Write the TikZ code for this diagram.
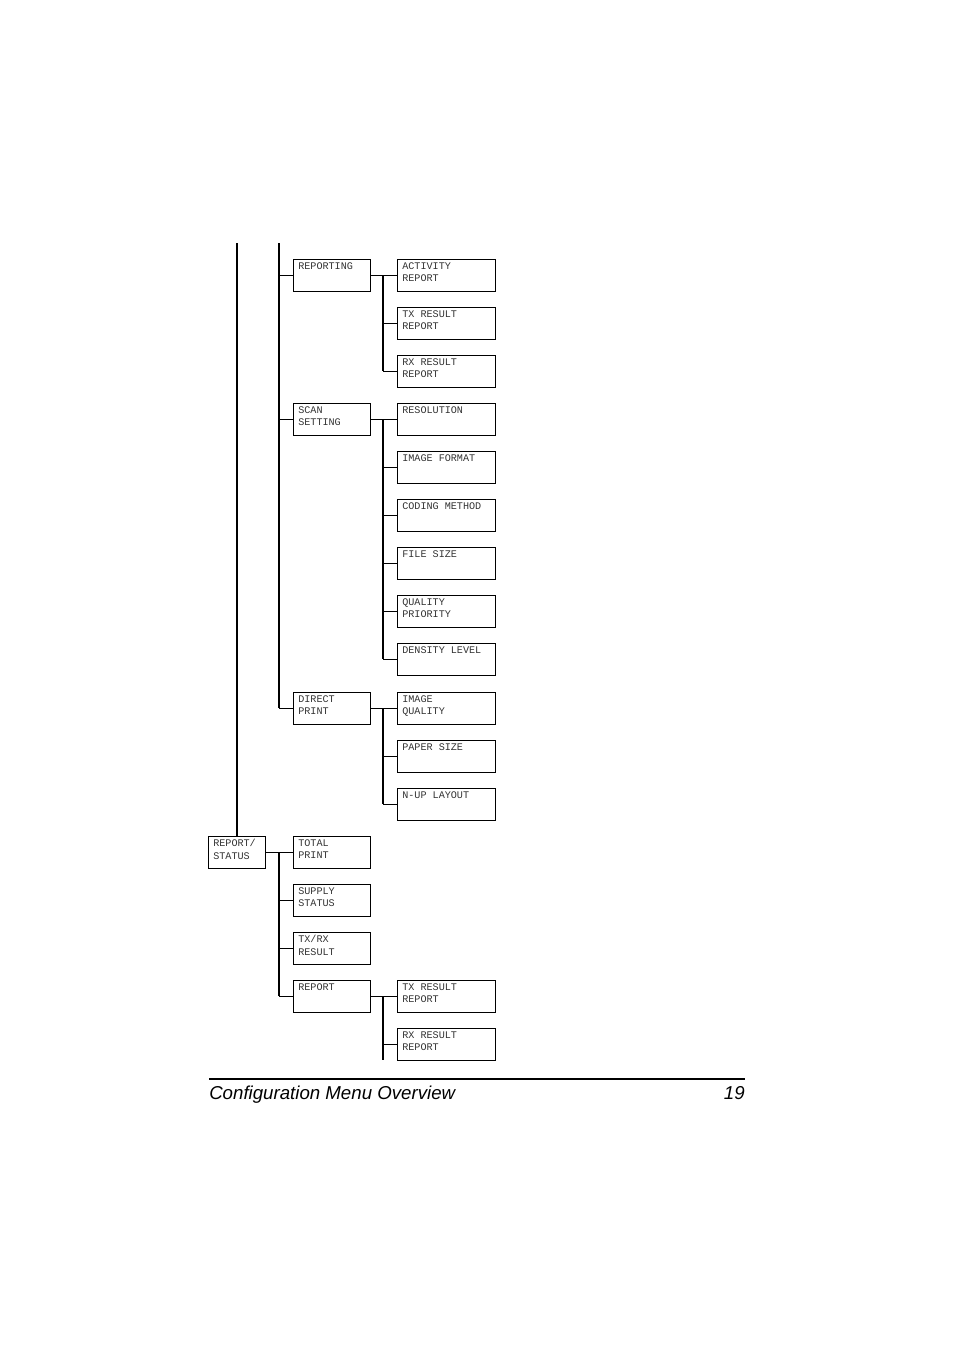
\documentclass[tikz,border=0pt]{standalone}
\usepackage{fontspec}
\setmainfont{Liberation Sans}
\newfontfamily\monof{Liberation Mono}
\tikzset{x=0.75pt,y=-0.75pt,
 bx/.style={draw,line width=0.8pt,anchor=north west,inner sep=0,minimum height=24pt},
 tx/.style={anchor=north west,inner sep=0,font=\monof\fontsize{7.6}{9.6}\selectfont,align=left,text=black!80},
 ln/.style={line width=0.8pt}}
\newcommand\mybox[5]{\node[bx,minimum width=#4*0.75pt] (#1) at (#2,#3) {};
 \node[tx] (#1t) at (#2+5,#3+3) {#5};}
\begin{document}
\begin{tikzpicture}
\useasboundingbox (0,0) rectangle (954,1350);
\mybox{rs}{208}{836}{57}{REPORT/\\STATUS}
\mybox{rep}{293}{259}{77}{REPORTING}
\mybox{scan}{293}{403}{77}{SCAN\\SETTING}
\mybox{dp}{293}{692}{77}{DIRECT\\PRINT}
\mybox{tp}{293}{836}{77}{TOTAL\\PRINT}
\mybox{ss}{293}{884}{77}{SUPPLY\\STATUS}
\mybox{txrx}{293}{932}{77}{TX/RX\\RESULT}
\mybox{rpt}{293}{980}{77}{REPORT}
\mybox{a1}{397}{259}{98}{ACTIVITY\\REPORT}
\mybox{a2}{397}{307}{98}{TX RESULT\\REPORT}
\mybox{a3}{397}{355}{98}{RX RESULT\\REPORT}
\mybox{b1}{397}{403}{98}{RESOLUTION}
\mybox{b2}{397}{451}{98}{IMAGE FORMAT}
\mybox{b3}{397}{499}{98}{CODING METHOD}
\mybox{b4}{397}{547}{98}{FILE SIZE}
\mybox{b5}{397}{595}{98}{QUALITY\\PRIORITY}
\mybox{b6}{397}{643}{98}{DENSITY LEVEL}
\mybox{c1}{397}{692}{98}{IMAGE\\QUALITY}
\mybox{c2}{397}{740}{98}{PAPER SIZE}
\mybox{c3}{397}{788}{98}{N-UP LAYOUT}
\mybox{d1}{397}{980}{98}{TX RESULT\\REPORT}
\mybox{d2}{397}{1028}{98}{RX RESULT\\REPORT}
% trunks
\coordinate (t0) at (237,243);
\coordinate (t1) at (279,243);
\draw[ln] (t0) -- (t0 |- rs.north);
\draw[ln] (t1) -- (279,708);
\foreach \n in {rep,scan,dp}{\draw[ln] (279,0 |- \n.west) -- (\n.west);}
% report/status
\draw[ln] (rs.east) -- (tp.west);
\draw[ln] (279,852) -- (279,996);
\foreach \n in {ss,txrx,rpt}{\draw[ln] (279,0 |- \n.west) -- (\n.west);}
% sub groups
\draw[ln] (rep.east) -- (a1.west); \draw[ln] (383,275) -- (383,371);
\foreach \n in {a2,a3}{\draw[ln] (383,0 |- \n.west) -- (\n.west);}
\draw[ln] (scan.east) -- (b1.west); \draw[ln] (383,419) -- (383,659);
\foreach \n in {b2,b3,b4,b5,b6}{\draw[ln] (383,0 |- \n.west) -- (\n.west);}
\draw[ln] (dp.east) -- (c1.west); \draw[ln] (383,708) -- (383,804);
\foreach \n in {c2,c3}{\draw[ln] (383,0 |- \n.west) -- (\n.west);}
\draw[ln] (rpt.east) -- (d1.west);
\coordinate (dend) at (383,1060);
\draw[ln] (383,996) -- (dend);
\draw[ln] (383,0 |- d2.west) -- (d2.west);
% footer
\draw[line width=0.8pt] (209,1079) -- (745,1079);
\node[anchor=base west,inner sep=0,font=\itshape\fontsize{14}{16}\selectfont] (ft) at (209,1099) {Configuration Menu Overview};
\node[anchor=base east,inner sep=0,font=\itshape\fontsize{14}{16}\selectfont] (pg) at (745,1099) {19};
\end{tikzpicture}
\end{document}
